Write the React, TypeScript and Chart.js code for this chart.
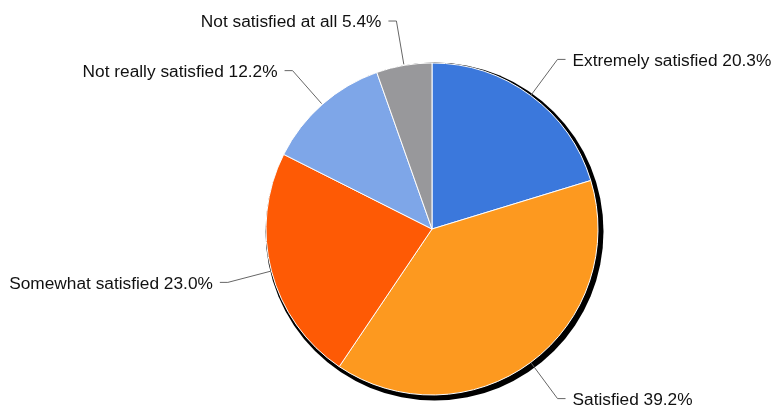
import React, { useEffect, useRef } from "react";
import { Chart, registerables } from "chart.js";

Chart.register(...registerables);

const categories = [
  "Extremely satisfied",
  "Satisfied",
  "Somewhat satisfied",
  "Not really satisfied",
  "Not satisfied at all",
];
const values = [20.3, 39.2, 23.0, 12.2, 5.4];
const colors = ["#3b78dc", "#fd991f", "#fe5a05", "#7ea6e8", "#98989b"];

const labelPlugin = {
  id: "pieLabels",
  beforeDatasetsDraw(chart: any) {
    const meta = chart.getDatasetMeta(0);
    const arc = meta.data[0];
    if (!arc) return;
    const { x, y, outerRadius } = arc.getProps(["x", "y", "outerRadius"], true);
    const ctx = chart.ctx;
    ctx.save();
    ctx.fillStyle = "#000";
    ctx.beginPath();
    ctx.arc(x + 2.5, y + 2.5, outerRadius + 3, 0, Math.PI * 2);
    ctx.fill();
    ctx.restore();
  },
  afterDatasetsDraw(chart: any) {
    const meta = chart.getDatasetMeta(0);
    const ctx = chart.ctx;
    ctx.save();
    ctx.font = '17.3px "Liberation Sans", Arial, sans-serif';
    ctx.textBaseline = "middle";
    meta.data.forEach((a: any, i: number) => {
      const { x, y, startAngle, endAngle, outerRadius } = a.getProps(
        ["x", "y", "startAngle", "endAngle", "outerRadius"],
        true
      );
      const mid = (startAngle + endAngle) / 2;
      const cos = Math.cos(mid);
      const sin = Math.sin(mid);
      const p0x = x + cos * (outerRadius + 1);
      const p0y = y + sin * (outerRadius + 1);
      const p1x = x + cos * (outerRadius + 45);
      const p1y = y + sin * (outerRadius + 45);
      const right = cos >= 0;
      const p2x = p1x + (right ? 8 : -8);
      ctx.strokeStyle = "#666";
      ctx.lineWidth = 1;
      ctx.beginPath();
      ctx.moveTo(p0x, p0y);
      ctx.lineTo(p1x, p1y);
      ctx.lineTo(p2x, p1y);
      ctx.stroke();
      ctx.fillStyle = "#111";
      ctx.textAlign = right ? "left" : "right";
      const text = `${categories[i]} ${values[i].toFixed(1)}%`;
      ctx.fillText(text, p2x + (right ? 7 : -7), p1y + 1.5);
    });
    ctx.restore();
  },
};

export default function App() {
  const ref = useRef<HTMLCanvasElement | null>(null);
  useEffect(() => {
    if (!ref.current) return;
    const chart = new Chart(ref.current, {
      type: "pie",
      data: {
        labels: categories,
        datasets: [
          {
            data: values,
            backgroundColor: colors,
            borderColor: "#ffffff",
            borderWidth: 1,
          },
        ],
      },
      options: {
        responsive: false,
        animation: false,
        events: [],
        radius: 166,
        layout: { padding: { left: 93, right: 0, top: 51, bottom: 0 } },
        plugins: {
          legend: { display: false },
          tooltip: { enabled: false },
          title: { display: false },
        },
      } as any,
      plugins: [labelPlugin],
    });
    return () => chart.destroy();
  }, []);
  return (
    <div style={{ position: "fixed", left: 0, top: 0, width: 771, height: 407, background: "#fff" }}>
      <canvas ref={ref} width={771} height={407} style={{ display: "block" }} />
    </div>
  );
}
